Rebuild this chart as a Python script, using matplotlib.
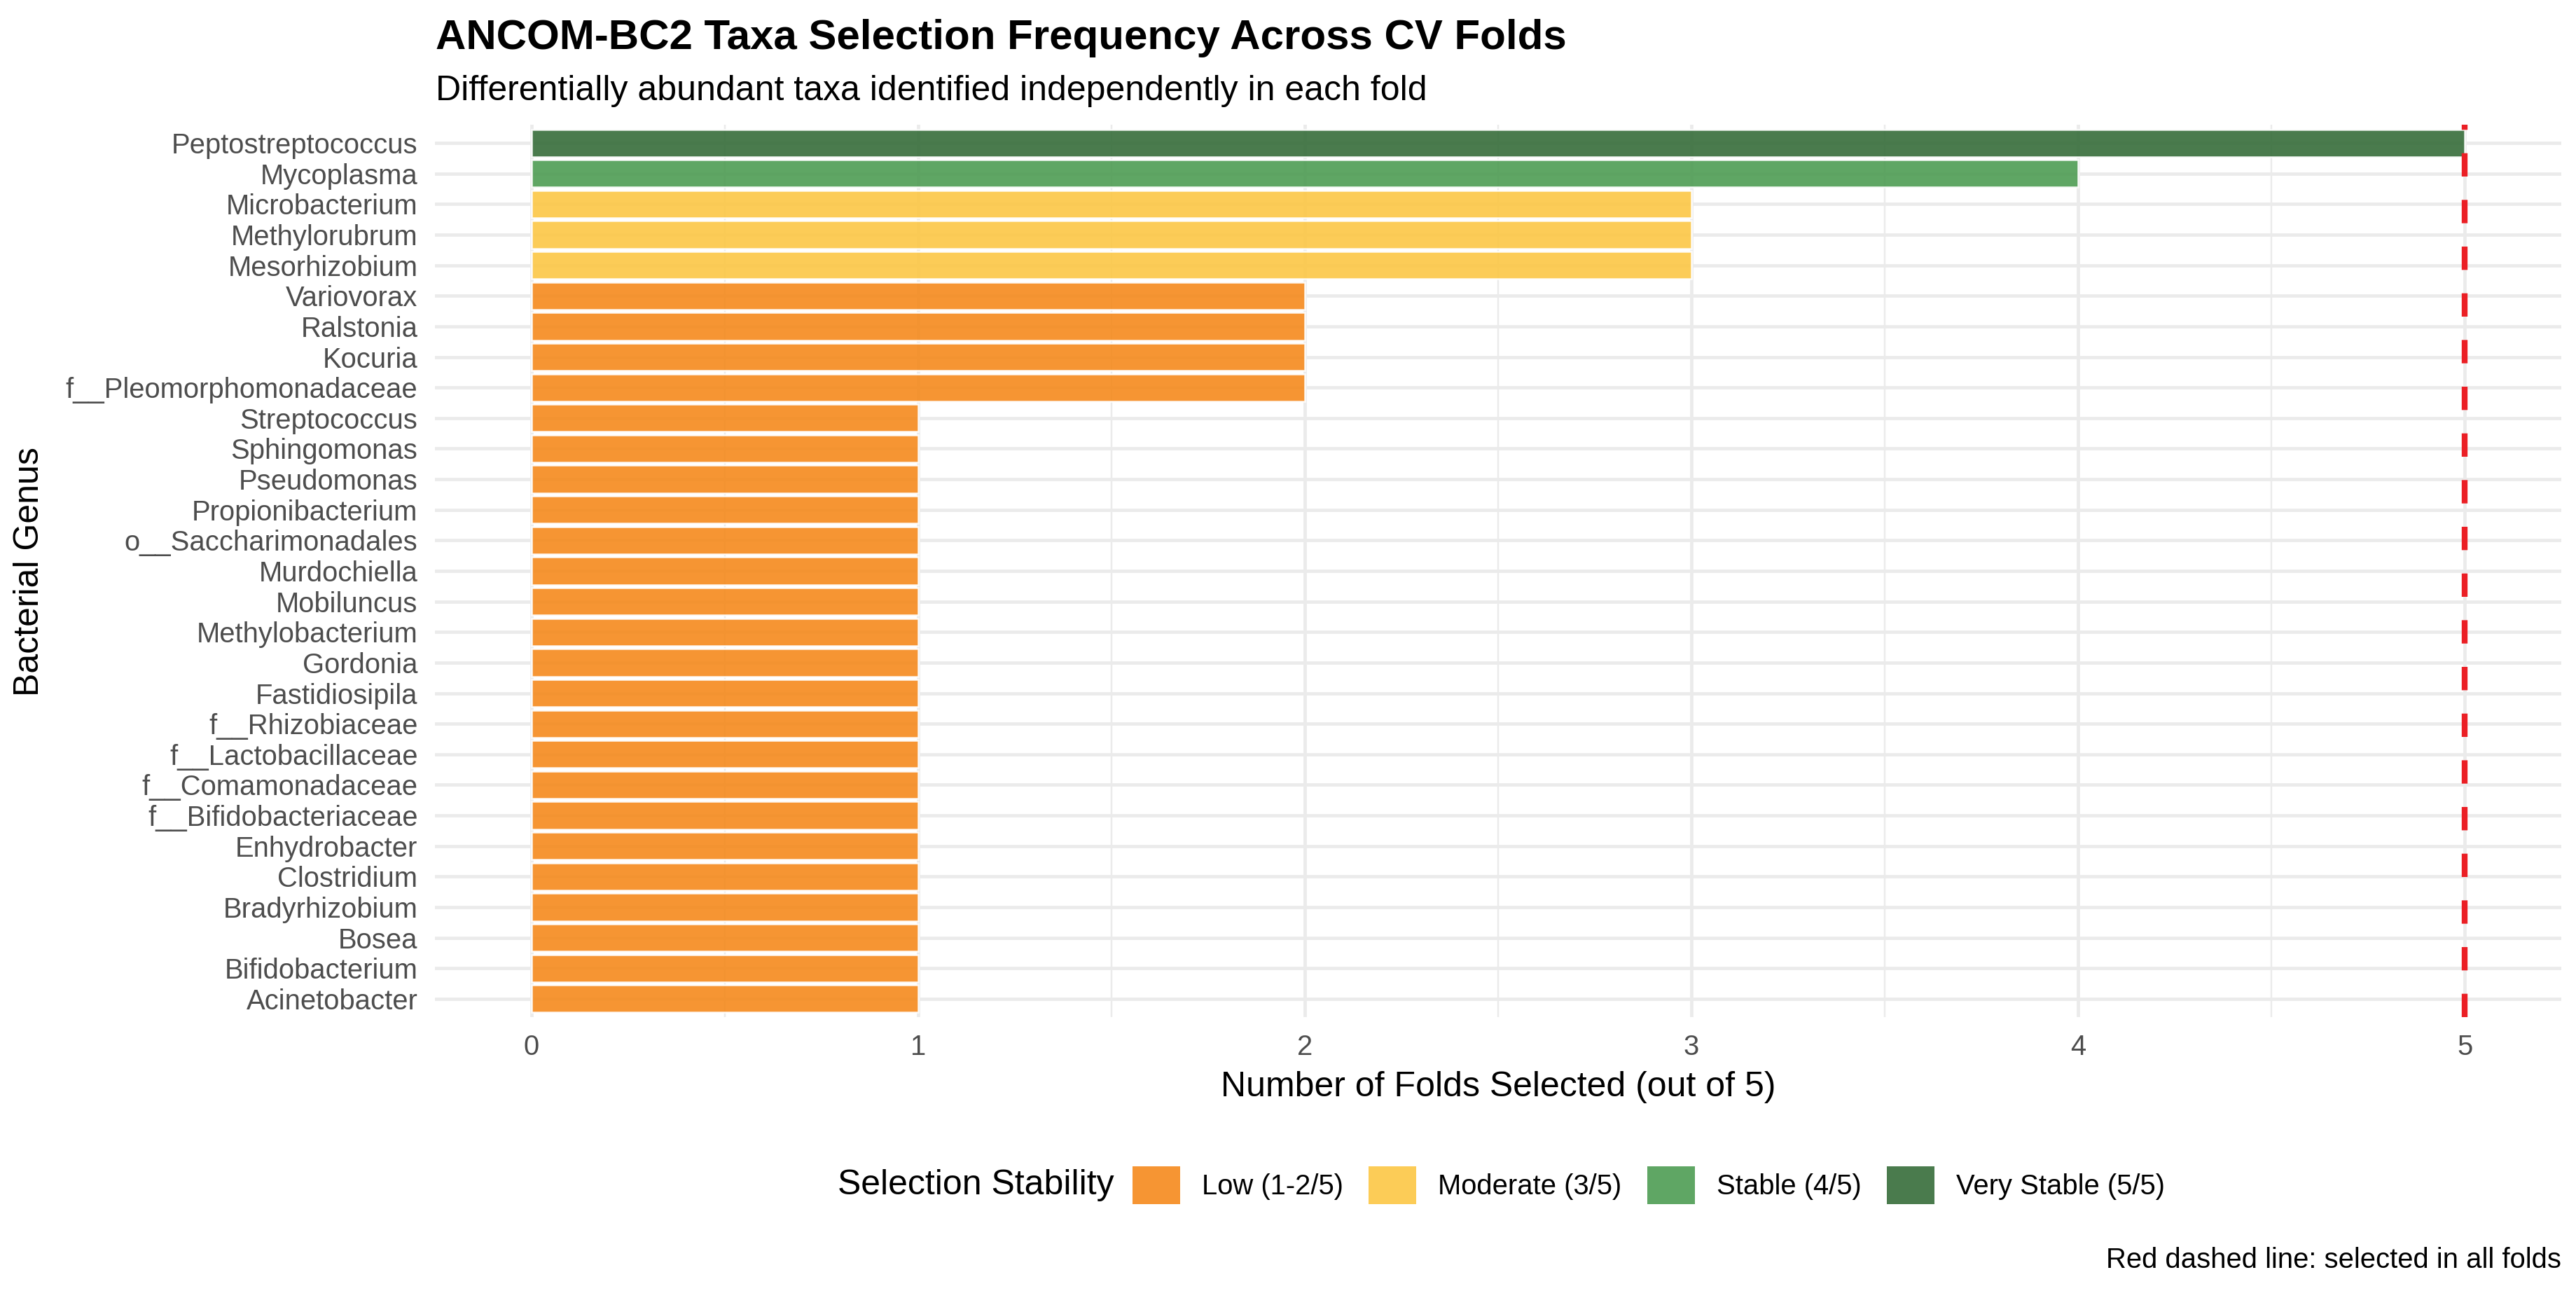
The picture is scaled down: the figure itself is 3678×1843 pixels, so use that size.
import numpy as np
import matplotlib.pyplot as plt
from matplotlib.patches import Patch

plt.rcParams['font.family'] = ['Liberation Sans', 'DejaVu Sans']

# taxa, top to bottom, and how many CV folds selected each one
taxa = ["Peptostreptococcus", "Mycoplasma", "Microbacterium", "Methylorubrum",
        "Mesorhizobium", "Variovorax", "Ralstonia", "Kocuria",
        "f__Pleomorphomonadaceae", "Streptococcus", "Sphingomonas", "Pseudomonas",
        "Propionibacterium", "o__Saccharimonadales", "Murdochiella", "Mobiluncus",
        "Methylobacterium", "Gordonia", "Fastidiosipila", "f__Rhizobiaceae",
        "f__Lactobacillaceae", "f__Comamonadaceae", "f__Bifidobacteriaceae",
        "Enhydrobacter", "Clostridium", "Bradyrhizobium", "Bosea",
        "Bifidobacterium", "Acinetobacter"]
folds = [5, 4, 3, 3, 3, 2, 2, 2, 2, 1, 1, 1, 1, 1, 1, 1, 1, 1, 1, 1, 1, 1, 1,
         1, 1, 1, 1, 1, 1]

levels = ["Low (1-2/5)", "Moderate (3/5)", "Stable (4/5)", "Very Stable (5/5)"]
level_colors = ["#F58A1D", "#FCC745", "#4E9C53", "#366D3A"]
n_folds = 5

def stability(k):
    if k >= 5:
        return 3
    if k == 4:
        return 2
    if k == 3:
        return 1
    return 0

W, H = 3678, 1843
fig = plt.figure(figsize=(W / 300, H / 300), dpi=300)
ax = fig.add_axes([621 / W, 1 - 1452 / H, (3657 - 621) / W, (1452 - 178) / H])

n = len(taxa)
ypos = np.arange(n)
bar_colors = [level_colors[stability(k)] for k in folds]
ax.barh(ypos, folds, height=0.9, color=bar_colors, alpha=0.9,
        edgecolor='white', linewidth=0.6, zorder=3)

ax.axvline(n_folds, color='#EB1F25', lw=2.0, dashes=(4, 4), zorder=4)

ax.set_xlim(-0.25, 5.25)
ax.set_ylim(n - 0.4, -0.6)
ax.set_xticks(range(0, 6))
ax.set_xticks(np.arange(0.5, 5.5, 1.0), minor=True)
ax.set_yticks(ypos)
ax.set_yticklabels(taxa)

ax.grid(True, which='major', color='#EBEBEB', lw=1.15, zorder=0)
ax.grid(True, which='minor', axis='x', color='#EBEBEB', lw=0.58, zorder=0)
ax.set_axisbelow(True)
for s in ax.spines.values():
    s.set_visible(False)
ax.tick_params(which='both', length=0)
ax.tick_params(axis='y', labelsize=9.6, labelcolor='#4D4D4D', pad=5.9)
ax.tick_params(axis='x', labelsize=9.6, labelcolor='#4D4D4D', pad=5.8)

fig.text(622 / W, 1 - 70 / H, "ANCOM-BC2 Taxa Selection Frequency Across CV Folds",
         fontsize=14.4, fontweight='bold', va='baseline')
fig.text(622 / W, 1 - 143 / H, "Differentially abundant taxa identified independently in each fold",
         fontsize=12, va='baseline')
fig.text(2139 / W, 1 - 1552 / H, "Number of Folds Selected (out of 5)",
         fontsize=12, ha='center', va='center')
fig.text(42 / W, 1 - 816 / H, "Bacterial Genus", fontsize=12, rotation=90,
         ha='center', va='center')

fig.text(1196 / W, 1 - 1692 / H, "Selection Stability", fontsize=12, va='center')
handles = [Patch(facecolor=c, alpha=0.9, edgecolor='none') for c in level_colors]
fig.legend(handles, levels, loc='center left', bbox_to_anchor=(1617 / W, 1 - 1692 / H),
           ncol=4, frameon=False, fontsize=9.6, handlelength=1.7, handleheight=1.675,
           handletextpad=0.78, columnspacing=0.9, borderpad=0, borderaxespad=0)

fig.text(3657 / W, 1 - 1799 / H, "Red dashed line: selected in all folds",
         fontsize=9.6, ha='right', va='center')

fig.savefig("out.png", dpi=300, facecolor='white')
